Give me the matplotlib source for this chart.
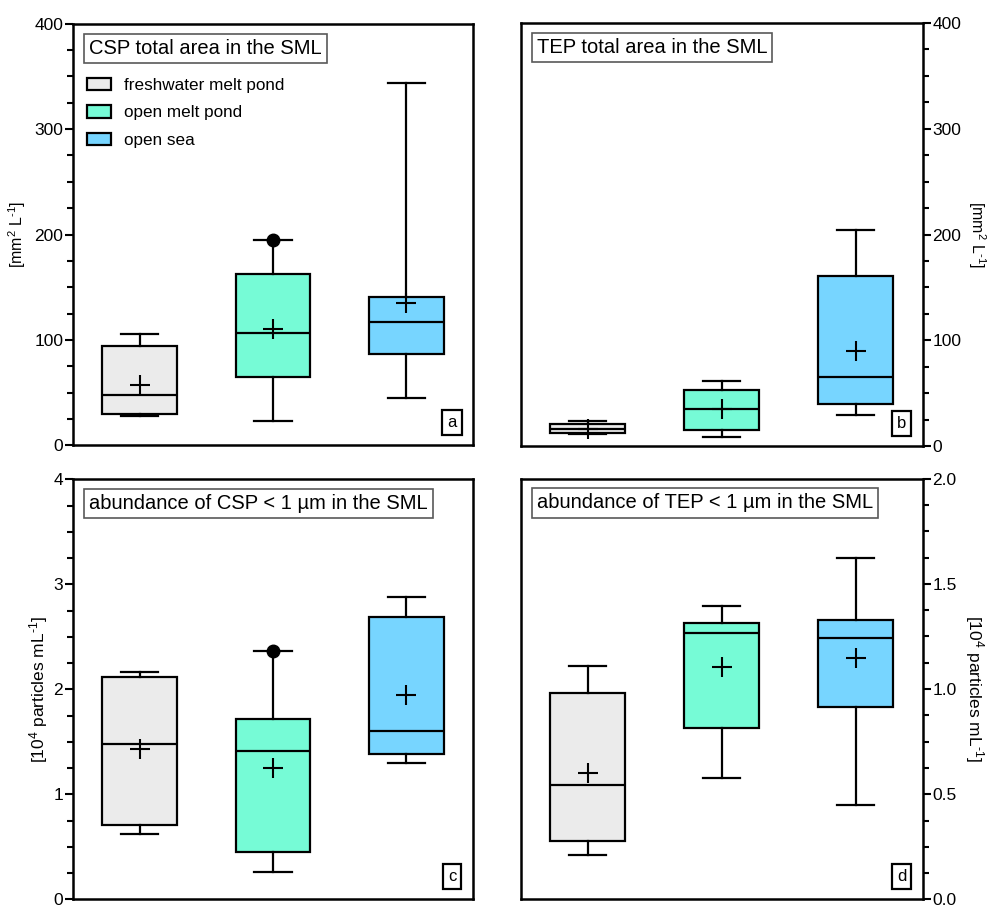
import matplotlib
matplotlib.use("Agg")
import matplotlib.pyplot as plt
from matplotlib.patches import Patch
from matplotlib.ticker import MultipleLocator, AutoMinorLocator, FormatStrFormatter

plt.rcParams['font.family'] = ['Liberation Sans', 'DejaVu Sans']
plt.rcParams['mathtext.fontset'] = 'custom'
plt.rcParams['mathtext.rm'] = 'Liberation Sans'
plt.rcParams['mathtext.it'] = 'Liberation Sans:italic'

groups = ['freshwater melt pond', 'open melt pond', 'open sea']
colors = ['#ebebeb', '#76fbd6', '#77d5ff']

# panel a: CSP total area [mm2 L-1]
a_whislo = [28, 22.7, 44.8]
a_q1 = [30, 65, 86.5]
a_med = [47.4, 106.5, 117.5]
a_q3 = [94, 163, 141]
a_whishi = [106, 195, 343.5]
a_mean = [57.5, 110, 134.6]
a_fliers = [[], [195], []]

# panel b: TEP total area [mm2 L-1]
b_whislo = [11.7, 8.5, 29.3]
b_q1 = [12.6, 15.8, 40]
b_med = [16, 35, 65.6]
b_q3 = [21.5, 53.6, 160.7]
b_whishi = [23.5, 62, 204]
b_mean = [16.5, 35, 90]
b_fliers = [[], [], []]

# panel c: abundance of CSP < 1 um [10^4 particles mL-1]
c_whislo = [0.625, 0.259, 1.303]
c_q1 = [0.71, 0.448, 1.382]
c_med = [1.48, 1.416, 1.609]
c_q3 = [2.12, 1.72, 2.69]
c_whishi = [2.17, 2.363, 2.877]
c_mean = [1.43, 1.25, 1.946]
c_fliers = [[], [2.363], []]

# panel d: abundance of TEP < 1 um [10^4 particles mL-1]
d_whislo = [0.211, 0.575, 0.449]
d_q1 = [0.279, 0.817, 0.915]
d_med = [0.543, 1.265, 1.244]
d_q3 = [0.981, 1.312, 1.328]
d_whishi = [1.109, 1.395, 1.625]
d_mean = [0.602, 1.106, 1.148]
d_fliers = [[], [], []]


def make_stats(whislo, q1, med, q3, whishi, mean, fliers):
    stats = []
    for i in range(len(med)):
        stats.append(dict(whislo=whislo[i], q1=q1[i], med=med[i], q3=q3[i],
                          whishi=whishi[i], mean=mean[i], fliers=fliers[i]))
    return stats


def draw_panel(ax, stats, ymax, major, title, letter, ylabel, right, label_x, label_size):
    bp = ax.bxp(stats, positions=[1, 2, 3], widths=0.56, patch_artist=True,
                showmeans=True, showfliers=True,
                boxprops=dict(linewidth=1.6, edgecolor='black'),
                medianprops=dict(color='black', linewidth=1.6),
                whiskerprops=dict(color='black', linewidth=1.6),
                capprops=dict(color='black', linewidth=1.6),
                capwidths=0.28,
                meanprops=dict(marker='+', markersize=15, markeredgecolor='black',
                               markeredgewidth=1.5),
                flierprops=dict(marker='o', markersize=9, markerfacecolor='black',
                                markeredgecolor='black'))
    for patch, c in zip(bp['boxes'], colors):
        patch.set_facecolor(c)

    ax.set_xlim(0.5, 3.5)
    ax.set_ylim(0, ymax)
    ax.set_xticks([])
    ax.yaxis.set_major_locator(MultipleLocator(major))
    ax.yaxis.set_minor_locator(AutoMinorLocator(4))
    for s in ax.spines.values():
        s.set_linewidth(1.8)
    ax.tick_params(axis='y', which='major', length=6, width=1.5, labelsize=12.5, pad=1)
    ax.tick_params(axis='y', which='minor', length=4, width=1.5)
    if right:
        ax.yaxis.tick_right()
        ax.yaxis.set_label_position('right')
        ax.set_ylabel(ylabel, fontsize=label_size, rotation=270, va='center')
    else:
        ax.set_ylabel(ylabel, fontsize=label_size)
    ax.yaxis.set_label_coords(label_x, 0.5)

    ax.text(0.04, 0.942, title, transform=ax.transAxes, fontsize=14.5,
            ha='left', va='center',
            bbox=dict(boxstyle='square,pad=0.25', fc='white', ec='0.35', lw=1.2))
    ax.text(0.948, 0.055, letter, transform=ax.transAxes, fontsize=12,
            ha='center', va='center',
            bbox=dict(boxstyle='square,pad=0.3', fc='white', ec='black', lw=1.6))


fig = plt.figure(figsize=(9.9, 9.09), dpi=100)
ax_a = fig.add_axes([0.0737, 0.510, 0.404, 0.464])
ax_b = fig.add_axes([0.526, 0.509, 0.406, 0.466])
ax_c = fig.add_axes([0.0737, 0.0105, 0.404, 0.462])
ax_d = fig.add_axes([0.526, 0.0105, 0.406, 0.463])

area_label = r'[mm$^2$ L$^{\text{-1}}$]'
abund_label = r'[10$^4$ particles mL$^{\text{-1}}$]'

draw_panel(ax_a, make_stats(a_whislo, a_q1, a_med, a_q3, a_whishi, a_mean, a_fliers),
           400, 100, 'CSP total area in the SML', 'a', area_label,
           False, -0.112, 11.5)
draw_panel(ax_b, make_stats(b_whislo, b_q1, b_med, b_q3, b_whishi, b_mean, b_fliers),
           400, 100, 'TEP total area in the SML', 'b', area_label,
           True, 1.134, 11.5)
draw_panel(ax_c, make_stats(c_whislo, c_q1, c_med, c_q3, c_whishi, c_mean, c_fliers),
           4, 1, 'abundance of CSP < 1 µm in the SML', 'c',
           abund_label, False, -0.058, 12.5)
draw_panel(ax_d, make_stats(d_whislo, d_q1, d_med, d_q3, d_whishi, d_mean, d_fliers),
           2.0, 0.5, 'abundance of TEP < 1 µm in the SML', 'd',
           abund_label, True, 1.13, 12.5)
ax_d.yaxis.set_major_formatter(FormatStrFormatter('%.1f'))

handles = [Patch(facecolor=c, edgecolor='black', linewidth=1.6) for c in colors]
ax_a.legend(handles, groups, loc='upper left', bbox_to_anchor=(0.035, 0.871),
            frameon=False, fontsize=12.3, handlelength=1.4, handleheight=0.72,
            handletextpad=0.75, labelspacing=0.72, borderpad=0, borderaxespad=0)

fig.savefig('out.png', dpi=100)
